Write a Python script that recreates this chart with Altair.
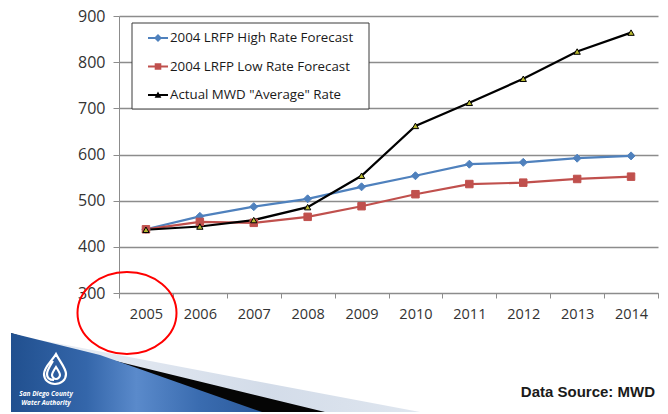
import altair as alt
import pandas as pd

# Rate series ($ per acre-foot) by calendar year
years = ["2005", "2006", "2007", "2008", "2009", "2010", "2011", "2012", "2013", "2014"]
series_names = [
    "2004 LRFP High Rate Forecast",
    "2004 LRFP Low Rate Forecast",
    'Actual MWD "Average" Rate',
]
high_rate = [438, 466, 487, 504, 530, 554, 579, 583, 592, 597]
low_rate = [438, 454, 452, 465, 488, 514, 536, 539, 547, 552]
actual_rate = [437, 444, 458, 486, 554, 662, 712, 764, 823, 864]
y_ticks = [300, 400, 500, 600, 700, 800, 900]

line_colors = ["#4F81BD", "#C0504D", "#000000"]
marker_fill = ["#4F81BD", "#C0504D", "#B8B830"]
marker_shape = ["M0,-1L1,0L0,1L-1,0Z", "square", "triangle-up"]
marker_size = [64, 56, 40]

rows = []
for sid, (name, vals) in enumerate(zip(series_names, [high_rate, low_rate, actual_rate])):
    for yr, v in zip(years, vals):
        rows.append({"year": yr, "series": name, "sid": sid, "rate": v})
df = pd.DataFrame(rows)

# plot area origin on the page
OX, OY = 119, 16

x_enc = alt.X(
    "year:O",
    sort=years,
    scale=alt.Scale(paddingInner=0, paddingOuter=0),
    axis=alt.Axis(
        title=None, labelAngle=0, labelFont="Open Sans", labelFontSize=14.5,
        labelColor="#333333", tickBand="extent", tickSize=5, tickColor="#8c8c8c",
        domainColor="#8c8c8c", labelPadding=9, grid=False,
    ),
)
y_enc = alt.Y(
    "rate:Q",
    scale=alt.Scale(domain=[300, 900], nice=False, zero=False),
    axis=alt.Axis(
        title=None, values=y_ticks, labelFont="Open Sans", labelFontSize=16,
        labelColor="#333333", tickSize=6, tickColor="#8c8c8c", domainColor="#8c8c8c",
        labelPadding=8, gridColor="#8c8c8c", gridWidth=1.6,
    ),
)

base = alt.Chart(df)

# one line and one marker layer per series
line_layers = []
marker_layers = []
for sid in range(len(series_names)):
    sub = base.transform_filter(alt.datum.sid == sid)
    line_layers.append(
        sub.mark_line(strokeWidth=2.2, stroke=line_colors[sid]).encode(x=x_enc, y=y_enc)
    )
    marker_layers.append(
        sub.mark_point(
            shape=marker_shape[sid], size=marker_size[sid], filled=True,
            fill=marker_fill[sid], stroke=line_colors[sid], strokeWidth=1, opacity=1,
        ).encode(x=x_enc, y=y_enc)
    )

# legend symbols: a short line with the series marker on top
legend_paths = [
    "M-1,-0.1H1V0.1H-1Z M0,-0.4L0.4,0L0,0.4L-0.4,0Z",
    "M-1,-0.1H1V0.1H-1Z M-0.33,-0.33H0.33V0.33H-0.33Z",
    "M-1,-0.1H1V0.1H-1Z M0,-0.34L0.34,0.28H-0.34Z",
]
legend_cfg = dict(
    title=None, orient="none", legendX=13, legendY=7, direction="vertical",
    labelFont="Open Sans", labelFontSize=13.3, labelColor="#1a1a1a",
    labelLimit=400, symbolSize=400, symbolOffset=11, labelOffset=2,
    rowPadding=11.5, padding=5, symbolOpacity=1, symbolStrokeWidth=0,
)
legend_layer = base.mark_point(filled=True, opacity=0, size=400).encode(
    x=x_enc,
    y=y_enc,
    color=alt.Color(
        "series:N",
        scale=alt.Scale(domain=series_names, range=line_colors),
        legend=alt.Legend(**legend_cfg),
    ),
    shape=alt.Shape(
        "series:N",
        scale=alt.Scale(domain=series_names, range=legend_paths),
        legend=alt.Legend(**legend_cfg),
    ),
)

one = alt.Data(values=[{"k": 0}])

# legend frame
legend_box = alt.Chart(one).mark_rect(fill="white", stroke="#3a3a3a", strokeWidth=1).encode(
    x=alt.value(132 - OX), x2=alt.value(369 - OX),
    y=alt.value(23 - OY), y2=alt.value(109 - OY),
)

# red circle drawn around the 2005 label
ellipse = alt.Chart(one).mark_point(
    shape="M-49.5,0 A49.5,41 0 1,0 49.5,0 A49.5,41 0 1,0 -49.5,0 Z",
    size=4, filled=False, stroke="#ff0000", strokeWidth=2, opacity=1,
).encode(x=alt.value(127 - OX), y=alt.value(313 - OY))


# footer banner (shapes given in page pixels from the page origin)
def banner_piece(path, fill):
    return alt.Chart(one).mark_point(
        shape=path, size=4, filled=True, fill=fill, strokeWidth=0, opacity=1,
    ).encode(x=alt.value(-OX), y=alt.value(-OY))


light_wedge = banner_piece(
    "M40,340 L250,380 L420,412 L40,412 Z",
    alt.Gradient(
        gradient="linear", x1=0, y1=0, x2=1, y2=0,
        stops=[alt.GradientStop(color="#e9eef5", offset=0),
               alt.GradientStop(color="#d3dce9", offset=0.6),
               alt.GradientStop(color="#dfe6ef", offset=1)],
    ),
)
black_band = banner_piece("M11,333 L50,345 L325,412 L11,412 Z", "#050505")
blue_band = banner_piece(
    "M11,333 L100,355 L262,412 L11,412 Z",
    alt.Gradient(
        gradient="linear", x1=0, y1=0, x2=1, y2=0,
        stops=[alt.GradientStop(color="#21508f", offset=0),
               alt.GradientStop(color="#3466aa", offset=0.3),
               alt.GradientStop(color="#5a8acb", offset=0.5),
               alt.GradientStop(color="#3a6cb0", offset=0.75),
               alt.GradientStop(color="#2b5a9c", offset=1)],
    ),
)
logo_drop = alt.Chart(one).mark_point(
    shape=("M56,354 C52,361 44,367 44,374 C44,380 49,384 55,384 C61,384 66,380 66,374 "
           "C66,368 60,362 56,354 Z M53,361 C50,366 47,370 47,374 C47,378 50,380 54,380 "
           "M56,367 C54,370 52,373 52,375 C52,377 54,379 56,379 C58,379 60,377 60,375 "
           "C60,373 58,370 56,367 Z"),
    size=4, filled=False, stroke="white", strokeWidth=2.2, opacity=1,
).encode(x=alt.value(-OX), y=alt.value(-OY))

logo_line1 = alt.Chart(one).mark_text(
    text="San Diego County", font="Open Sans", fontSize=6.5, fontWeight="bold",
    fontStyle="italic", color="white", align="center", baseline="middle",
).encode(x=alt.value(46 - OX), y=alt.value(394 - OY))
logo_line2 = alt.Chart(one).mark_text(
    text="Water Authority", font="Open Sans", fontSize=6.5, fontWeight="bold",
    fontStyle="italic", color="white", align="center", baseline="middle",
).encode(x=alt.value(46 - OX), y=alt.value(402.5 - OY))

source = alt.Chart(one).mark_text(
    text="Data Source: MWD", font="Liberation Sans", fontSize=15, fontWeight="bold",
    color="#1a1a1a", align="right", baseline="middle",
).encode(x=alt.value(655 - OX), y=alt.value(392 - OY))

chart = alt.layer(
    light_wedge, black_band, blue_band, logo_drop, logo_line1, logo_line2,
    legend_box, *line_layers, *marker_layers, legend_layer, ellipse, source,
).properties(
    width=539,
    height=277,
    autosize="none",
    padding={"left": OX, "top": OY, "right": 10, "bottom": 121},
    background="white",
).configure_view(stroke=None)

chart.save("out.html", embed_options={"renderer": "svg", "actions": False})
